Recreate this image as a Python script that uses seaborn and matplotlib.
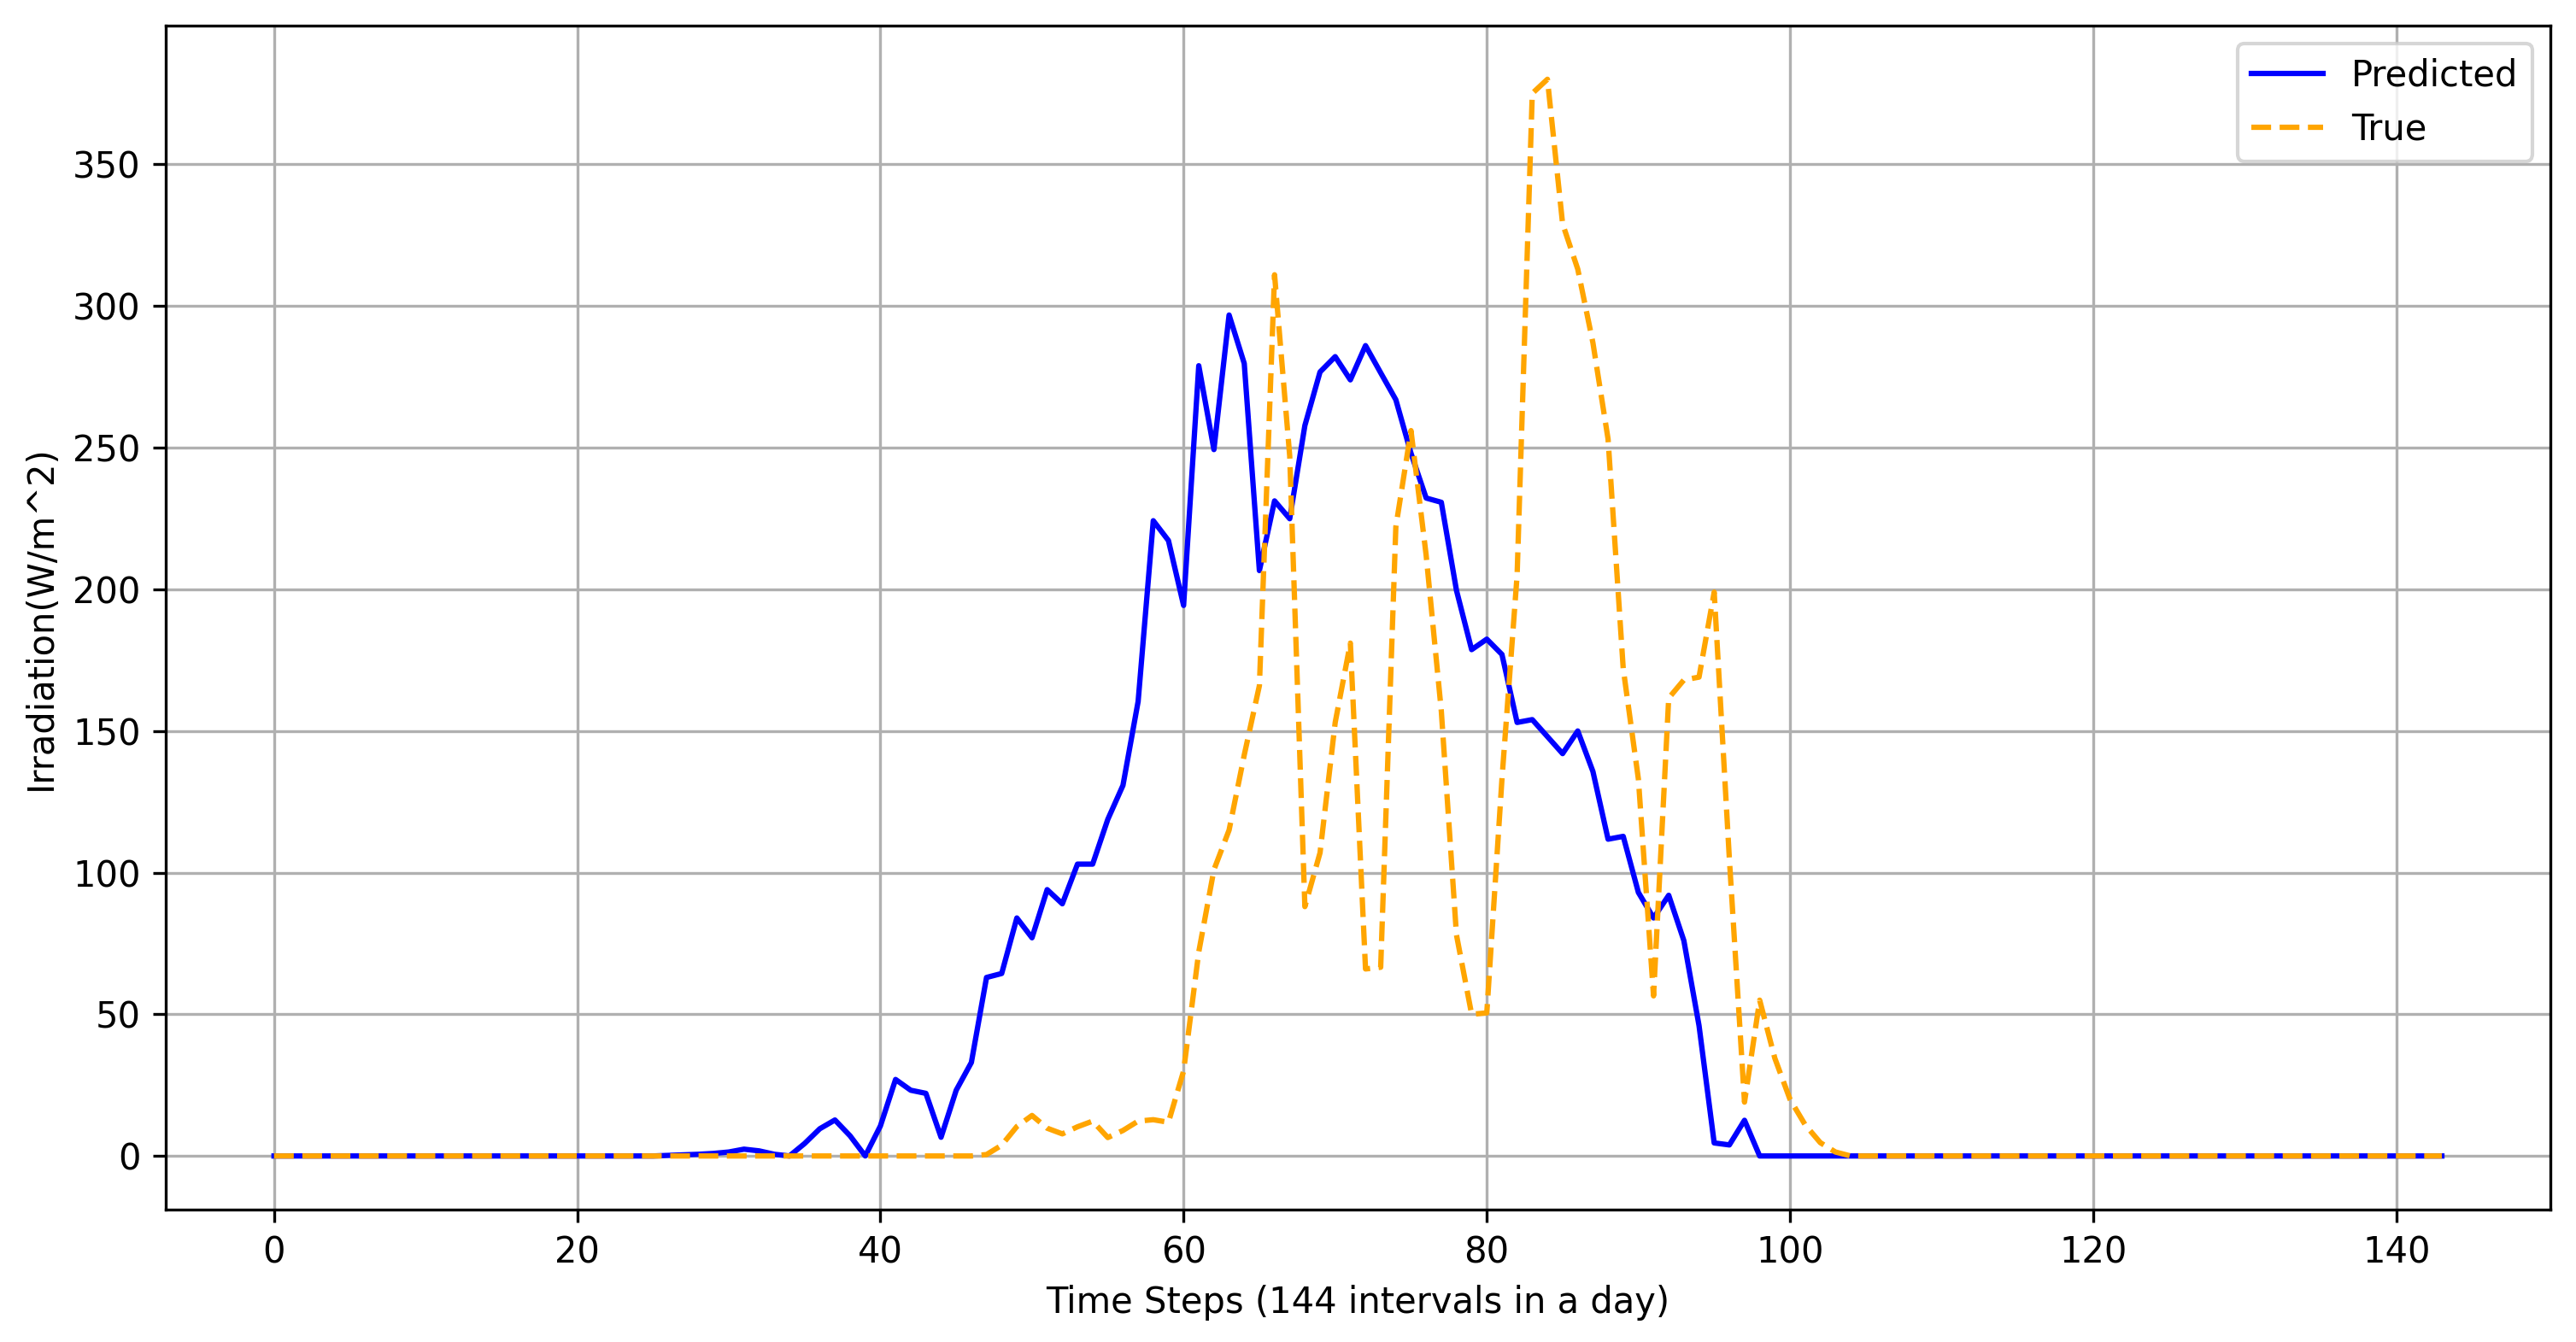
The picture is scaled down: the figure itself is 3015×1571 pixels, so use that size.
import numpy as np
import pandas as pd
import matplotlib
matplotlib.use("Agg")
import matplotlib.pyplot as plt
import seaborn as sns

# ===== データ =====
steps = list(range(144))

predicted = (
    [0.0] * 26
    + [0.2, 0.4, 0.6, 0.9, 1.4, 2.4, 1.8, 0.6, 0.0, 4.4,
       9.6, 12.7, 7.1, 0.0, 10.6, 27.0, 23.2, 22.1, 6.6, 23.2,
       33.0, 63.0, 64.4, 84.0, 77.0, 94.0, 89.0, 103.0, 103.0, 118.8,
       130.8, 160.4, 224.2, 217.2, 194.3, 278.9, 249.3, 296.8, 279.7, 206.6,
       231.2, 224.9, 257.8, 276.7, 282.1, 273.9, 286.0, 276.4, 266.9, 248.0,
       232.2, 230.7, 199.6, 178.7, 182.4, 177.0, 153.0, 154.0, 148.0, 142.0,
       150.0, 135.7, 111.8, 112.8, 93.0, 84.0, 92.0, 76.0, 46.0, 4.6,
       3.9, 12.6]
    + [0.0] * 46
)

true = (
    [0.0] * 47
    + [0.5, 3.8, 10.4, 14.3, 9.8, 7.8, 10.3, 12.3, 6.5, 9.0,
       12.3, 12.8, 11.9, 30.0, 72.0, 101.0, 115.0, 141.5, 166.0, 311.0,
       247.0, 88.0, 107.0, 153.0, 181.0, 66.0, 66.6, 222.0, 256.0, 212.0,
       157.0, 78.0, 50.0, 50.5, 133.0, 205.0, 375.0, 380.0, 329.0, 313.0,
       287.0, 253.0, 172.0, 133.0, 56.5, 161.6, 168.0, 169.0, 199.0, 105.0,
       19.0, 55.0, 34.5, 20.0, 11.0, 4.7, 1.4]
    + [0.0] * 40
)

df = pd.DataFrame({"step": steps, "Predicted": predicted, "True": true})

# ---- プロット ----
fig, ax = plt.subplots(figsize=(10.05, 5.237), dpi=300)
fig.subplots_adjust(left=0.0643, right=0.990, bottom=0.0985, top=0.981)

sns.lineplot(data=df, x="step", y="Predicted", ax=ax, color="blue", label="Predicted")
sns.lineplot(data=df, x="step", y="True", ax=ax, color="orange", linestyle="--", label="True")

ax.set_xlabel("Time Steps (144 intervals in a day)")
ax.set_ylabel("Irradiation(W/m^2)")
ax.grid(True)
ax.legend(loc="upper right")

fig.savefig("out.png", dpi=300)
